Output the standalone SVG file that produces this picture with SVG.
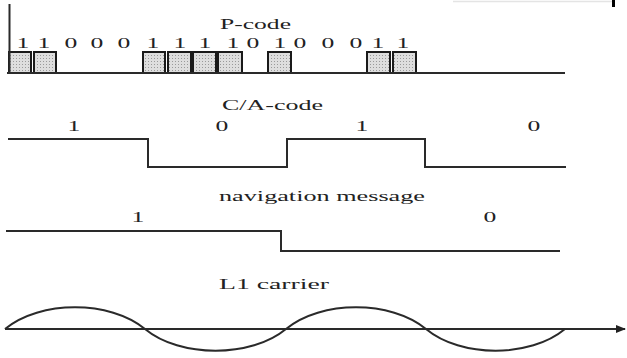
<svg xmlns="http://www.w3.org/2000/svg" width="627" height="358" viewBox="0 0 627 358">
<style>
  text { font-family: "Liberation Serif", "Times New Roman", serif; font-size: 15px; fill: #222; }
  .wave { fill: none; stroke: #2a2a2a; stroke-width: 2; stroke-linejoin: miter; }
  .box { fill: url(#stipple); stroke: #1a1a1a; stroke-width: 2; }
</style>
<defs>
  <pattern id="stipple" width="3" height="3" patternUnits="userSpaceOnUse">
    <rect width="3" height="3" fill="#dedede"/>
    <rect x="1" y="1" width="1" height="1" fill="#9a9a9a"/>
  </pattern>
  <marker id="arrow" viewBox="0 0 10 8" refX="9" refY="4" markerWidth="10" markerHeight="8" markerUnits="userSpaceOnUse" orient="auto">
    <path d="M0,0 L10,4 L0,8 Z" fill="#222"/>
  </marker>
</defs>
<rect width="627" height="358" fill="#fff"/>
<line x1="453" y1="1.5" x2="612" y2="1.5" stroke="#e4e4e4" stroke-width="1.5"/>
<rect x="612" y="0" width="3" height="7" fill="#000"/>

<g id="p-code">
  <text x="220" y="29" textLength="71" lengthAdjust="spacingAndGlyphs">P-code</text>
  <rect class="box" x="9" y="52" width="22" height="21"/>
  <rect class="box" x="34" y="52" width="22" height="21"/>
  <rect class="box" x="143" y="52" width="22" height="21"/>
  <rect class="box" x="168" y="52" width="23" height="21"/>
  <rect class="box" x="193" y="52" width="23" height="21"/>
  <rect class="box" x="218" y="52" width="24" height="21"/>
  <rect class="box" x="268" y="52" width="23" height="21"/>
  <rect class="box" x="367" y="52" width="23" height="21"/>
  <rect class="box" x="393" y="52" width="23" height="21"/>
  <g>
    <text x="16.6" y="48" textLength="12.8" lengthAdjust="spacingAndGlyphs">1</text>
    <text x="37.6" y="48" textLength="12.8" lengthAdjust="spacingAndGlyphs">1</text>
    <text x="64.6" y="48" textLength="12.8" lengthAdjust="spacingAndGlyphs">0</text>
    <text x="90.6" y="48" textLength="12.8" lengthAdjust="spacingAndGlyphs">0</text>
    <text x="117.6" y="48" textLength="12.8" lengthAdjust="spacingAndGlyphs">0</text>
    <text x="146.6" y="48" textLength="12.8" lengthAdjust="spacingAndGlyphs">1</text>
    <text x="173.6" y="48" textLength="12.8" lengthAdjust="spacingAndGlyphs">1</text>
    <text x="198.6" y="48" textLength="12.8" lengthAdjust="spacingAndGlyphs">1</text>
    <text x="226.6" y="48" textLength="12.8" lengthAdjust="spacingAndGlyphs">1</text>
    <text x="246.6" y="48" textLength="12.8" lengthAdjust="spacingAndGlyphs">0</text>
    <text x="273.6" y="48" textLength="12.8" lengthAdjust="spacingAndGlyphs">1</text>
    <text x="293.6" y="48" textLength="12.8" lengthAdjust="spacingAndGlyphs">0</text>
    <text x="321.6" y="48" textLength="12.8" lengthAdjust="spacingAndGlyphs">0</text>
    <text x="349.6" y="48" textLength="12.8" lengthAdjust="spacingAndGlyphs">0</text>
    <text x="371.6" y="48" textLength="12.8" lengthAdjust="spacingAndGlyphs">1</text>
    <text x="396.6" y="48" textLength="12.8" lengthAdjust="spacingAndGlyphs">1</text>
  </g>
</g>

<g id="ca-code">
  <text x="222" y="110" textLength="101" lengthAdjust="spacingAndGlyphs">C/A-code</text>
  <text x="67.6" y="131" textLength="12.8" lengthAdjust="spacingAndGlyphs">1</text>
  <text x="215.6" y="131" textLength="12.8" lengthAdjust="spacingAndGlyphs">0</text>
  <text x="355.6" y="131" textLength="12.8" lengthAdjust="spacingAndGlyphs">1</text>
  <text x="527.6" y="131" textLength="12.8" lengthAdjust="spacingAndGlyphs">0</text>
</g>

<g id="navigation-message">
  <text x="219" y="201" textLength="206" lengthAdjust="spacingAndGlyphs">navigation message</text>
  <text x="131.6" y="222" textLength="12.8" lengthAdjust="spacingAndGlyphs">1</text>
  <text x="483.6" y="222" textLength="12.8" lengthAdjust="spacingAndGlyphs">0</text>
</g>

<g id="l1-carrier">
  <text x="219" y="289" textLength="110" lengthAdjust="spacingAndGlyphs">L1 carrier</text>
</g>

<g id="connectors">
  <path class="wave" d="M9.5,4 V73 M7,73 H565"/>
  <path class="wave" d="M8,139 H148 V167 H287 V139 H425 V167 H566"/>
  <path class="wave" d="M6,231 H281 V251 H560"/>
  <path class="wave" d="M5,329 H625" marker-end="url(#arrow)" stroke-width="1.8"/>
  <path class="wave" d="M5,329 C40,300 110,300 145,329 C180,358 251,358 286,329 C321,300 391,300 426,329 C461,358 530,358 565,329" stroke-width="1.8"/>
</g>
</svg>
